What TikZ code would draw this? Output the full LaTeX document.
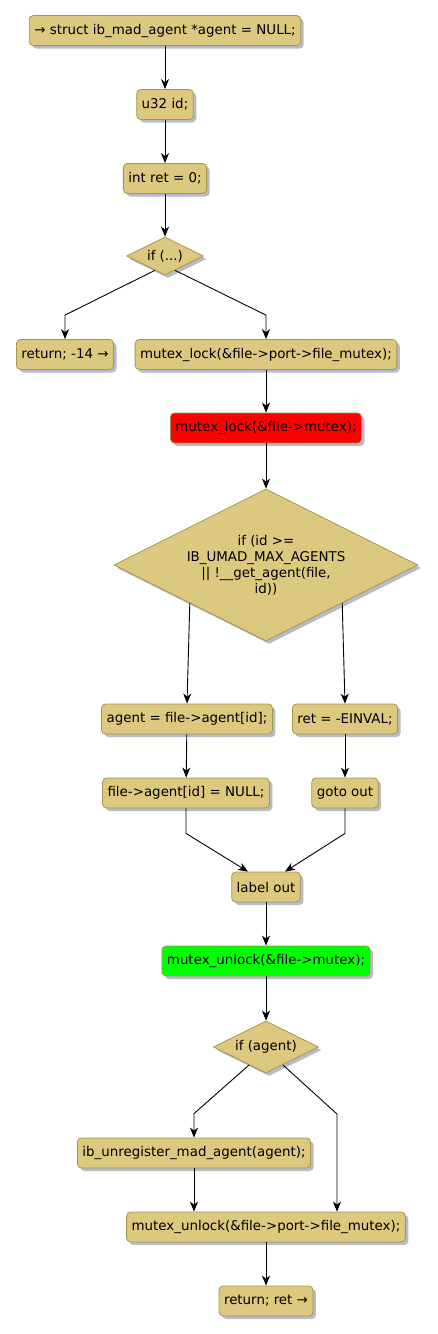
\documentclass[tikz,border=0pt]{standalone}
\usepackage{fontspec}
\setmainfont{DejaVu Sans}
\usetikzlibrary{arrows.meta,positioning,shapes.geometric,shadows,calc}
\definecolor{actfill}{HTML}{DCC87E}
\definecolor{actline}{HTML}{A69549}
\definecolor{actshade}{HTML}{B4BCCC}
\definecolor{lockred}{HTML}{FF0000}
\definecolor{unlockgreen}{HTML}{00FF00}

\begin{document}
\begin{tikzpicture}[x=1pt,y=-1pt,font=\fontsize{13.4}{15}\selectfont,
  >={Stealth[length=10pt,width=8pt,inset=3pt]},
  shd/.style={drop shadow={shadow xshift=3pt,shadow yshift=-3pt,
    fill=actshade,opacity=1}},
  act/.style={draw=actline,fill=actfill,rounded corners=4pt,
    inner xsep=5pt,minimum height=30pt,line width=0.8pt,shd},
  dec/.style={diamond,aspect=2,draw=actline,fill=actfill,inner sep=0pt,
    align=center,line width=0.8pt,shd},
  arr/.style={->,line width=0.9pt,draw=black}]
  \useasboundingbox (0,0) rectangle (437,1334);

  \node[act] (entry) at (165,30.5) {→ struct ib\_mad\_agent *agent = NULL;};
  \node[act] (id) at (165,104.5) {u32 id;};
  \node[act] (ret0) at (165,178.5) {int ret = 0;};
  \node[dec,minimum width=77pt,minimum height=38pt] (if1) at (165,256) {if (...)};
  \draw[arr] (entry) -- (id);
  \draw[arr] (id) -- (ret0);
  \draw[arr] (ret0) -- (if1);

  \node[act] (ret14) at (65,354.5) {return; -14 →};
  \node[act] (lockport) at (266,354.5) {mutex\_lock(\&file->port->file\_mutex);};
  \node[act,fill=lockred] (lockmx) at (266,428) {mutex\_lock(\&file->mutex);};
  \draw[arr] ($(if1.south)!.26!(if1.west)$) -- ([yshift=24pt]ret14.north) -- (ret14.north);
  \draw[arr] ($(if1.south)!.26!(if1.east)$) -- ([yshift=24pt]lockport.north) -- (lockport.north);
  \draw[arr] (lockport) -- (lockmx);

  \node[dec,minimum width=304pt,minimum height=152pt,
    font=\fontsize{13.4}{16}\selectfont] (if2) at (266,565)
    {if (id >=\\IB\_UMAD\_MAX\_AGENTS\\|| !\_\_get\_agent(file,\\id))};
  \draw[arr] (lockmx) -- (if2);

  \node[act] (agent) at (187,719) {agent = file->agent[id];};
  \node[act] (einval) at (345,719) {ret = -EINVAL;};
  \node[act] (agnull) at (186,793) {file->agent[id] = NULL;};
  \node[act] (gotoout) at (345,793) {goto out};
  \node[act] (lblout) at (266,887) {label out};
  \draw[arr] (if2.south west) -- (agent.north);
  \draw[arr] (if2.south east) -- (einval.north);
  \draw[arr] (agent) -- (agnull);
  \draw[arr] (einval) -- (gotoout);
  \draw[arr] (agnull.south) -- ++(0,25) -- ([xshift=-18pt]lblout.north);
  \draw[arr] (gotoout.south) -- ++(0,25) -- ([xshift=19pt]lblout.north);

  \node[act,fill=unlockgreen] (unlockmx) at (266,961) {mutex\_unlock(\&file->mutex);};
  \node[dec,minimum width=105pt,minimum height=52pt] (if3) at (266,1047) {if (agent)};
  \draw[arr] (lblout) -- (unlockmx);
  \draw[arr] (unlockmx) -- (if3);

  \node[act] (unreg) at (194,1153) {ib\_unregister\_mad\_agent(agent);};
  \node[act] (unlockport) at (266,1227) {mutex\_unlock(\&file->port->file\_mutex);};
  \node[act] (retret) at (266,1301) {return; ret →};
  \coordinate (skip) at (337,1114);
  \draw[arr] ($(if3.south)!.32!(if3.west)$) -- ([yshift=24pt]unreg.north) -- (unreg.north);
  \draw[arr] ($(if3.south)!.32!(if3.east)$) -- (skip) -- (skip |- unlockport.north);
  \draw[arr] (unreg.south) -- (unreg.south |- unlockport.north);
  \draw[arr] (unlockport) -- (retret);
\end{tikzpicture}
\end{document}
